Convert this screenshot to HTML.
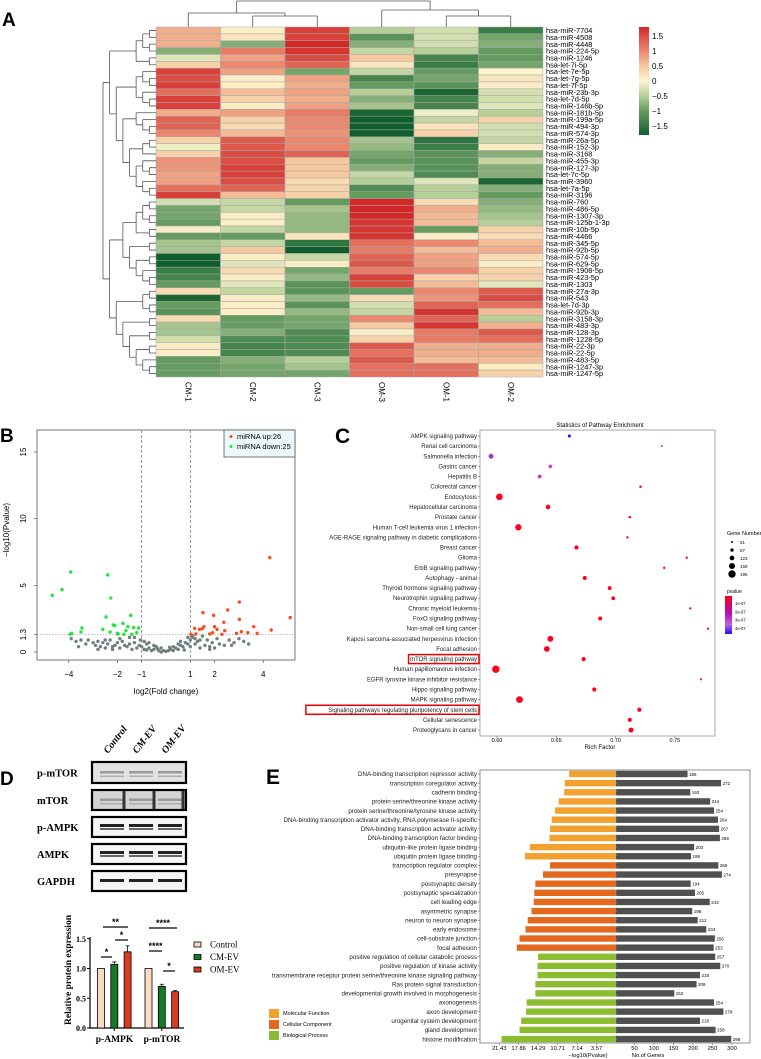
<!DOCTYPE html>
<html><head><meta charset="utf-8"><style>
html,body{margin:0;padding:0;background:#fff}
svg{display:block;font-family:"Liberation Sans",sans-serif}
</style></head><body>
<svg id="fig" width="761" height="1059" viewBox="0 0 761 1059" xmlns="http://www.w3.org/2000/svg"></svg>
<script>
// ---------- DATA ----------
const hmRows=["hsa-miR-7704","hsa-miR-4508","hsa-miR-4448","hsa-miR-224-5p","hsa-miR-1246","hsa-let-7i-5p","hsa-let-7e-5p","hsa-let-7g-5p","hsa-let-7f-5p","hsa-miR-23b-3p","hsa-let-7d-5p","hsa-miR-146b-5p","hsa-miR-181b-5p","hsa-miR-199a-5p","hsa-miR-494-3p","hsa-miR-574-3p","hsa-miR-26a-5p","hsa-miR-152-3p","hsa-miR-3168","hsa-miR-455-3p","hsa-miR-127-3p","hsa-let-7c-5p","hsa-miR-3960","hsa-let-7a-5p","hsa-miR-3196","hsa-miR-760","hsa-miR-486-5p","hsa-miR-1307-3p","hsa-miR-125b-1-3p","hsa-miR-10b-5p","hsa-miR-4466","hsa-miR-345-5p","hsa-miR-92b-5p","hsa-miR-574-5p","hsa-miR-629-5p","hsa-miR-1908-5p","hsa-miR-423-5p","hsa-miR-1303","hsa-miR-27a-3p","hsa-miR-543","hsa-let-7d-3p","hsa-miR-92b-3p","hsa-miR-3158-3p","hsa-miR-483-3p","hsa-miR-128-3p","hsa-miR-1228-5p","hsa-miR-22-3p","hsa-miR-22-5p","hsa-miR-483-5p","hsa-miR-1247-3p","hsa-miR-1247-5p"];
const hmCols=["CM-1","CM-2","CM-3","OM-3","OM-1","OM-2"];
const hmValues=[
[0.7,0.1,1.6,-0.5,-0.3,-1.4],[0.7,0.2,1.6,-1.1,-0.3,-0.9],[0.7,-0.8,1.8,-0.8,-0.3,-0.8],[-0.8,1.1,1.7,-0.4,-0.5,-1.0],[-0.2,0.8,1.5,0.5,-1.3,-1.0],[0.4,1.0,1.3,0.2,-1.4,-0.9],
[1.6,0.8,-0.9,-0.4,-1.0,0.0],[1.5,0.1,0.8,-1.3,-0.9,0.2],[1.6,0.1,0.7,-1.0,-1.1,0.1],[1.2,0.6,0.8,-0.5,-1.7,-0.3],[1.6,0.4,0.7,-0.8,-1.3,-0.3],[1.6,0.1,0.8,-0.6,-1.3,-0.2],
[0.7,0.8,1.1,-1.7,-0.1,-0.5],[1.3,0.4,1.0,-1.8,-0.4,0.4],[1.3,0.3,1.0,-1.8,0.2,-0.3],[1.0,0.6,0.9,-1.9,0.4,-0.3],[0.4,1.4,1.0,-0.6,-1.5,-0.4],[-0.1,1.4,1.0,-0.7,-1.4,0.1],
[0.4,1.5,1.3,-0.9,-1.1,-0.8],[0.9,1.5,0.5,-1.0,-1.1,-0.4],[0.9,1.6,0.5,-0.8,-1.1,-0.8],[0.8,1.6,0.5,-0.4,-1.2,-0.8],[0.8,1.5,0.3,-0.5,-0.2,-1.7],[1.2,1.3,0.4,-1.2,-0.5,-0.8],
[1.6,0.6,0.4,-1.0,-0.5,-1.0],[-0.3,-0.4,-1.0,1.8,0.3,-0.8],[-0.9,-0.4,-0.6,1.8,0.7,-0.7],[-0.9,0.1,-0.7,1.8,0.6,-0.6],[-1.0,0.1,-0.7,1.7,0.6,-0.5],[0.1,-0.4,-0.7,1.7,-1.0,0.4],
[-1.0,-1.0,0.2,1.7,0.1,0.3],[-0.6,-0.4,-1.5,1.2,1.0,0.6],[-0.6,0.5,-1.8,1.1,0.6,0.7],[-1.8,0.1,-0.4,1.3,0.8,0.3],[-1.8,-0.2,0.1,1.4,0.8,0.1],[-1.4,0.3,-0.9,1.1,1.0,0.4],
[-1.3,0.1,-0.7,1.6,0.4,0.4],[-1.0,-0.2,-1.1,1.5,0.6,-0.2],[0.3,-0.4,-1.1,-1.0,1.0,1.4],[-1.7,0.1,-0.7,0.3,0.9,1.5],[-1.0,0.1,-1.1,-0.3,1.3,1.2],[-1.1,0.1,-0.7,-0.4,1.7,0.6],
[0.3,-1.0,-0.9,1.0,1.3,-0.5],[-0.6,-1.0,-0.9,0.5,1.7,0.7],[-0.6,-0.8,-1.2,0.1,1.1,1.4],[-0.3,-1.2,-1.2,0.4,1.1,1.2],[0.1,-1.3,-1.2,1.4,0.7,0.7],[0.1,-1.3,-1.2,1.2,0.7,0.7],
[-1.0,-0.8,-0.5,1.4,0.6,0.6],[-1.0,-0.9,-0.6,1.2,1.2,0.1],[-1.0,-0.9,-0.9,1.2,1.2,0.4]];
const hmScaleTicks=[1.5,1,0.5,0,-0.5,-1,-1.5];
const rowTree=[[[[[0,1],[2,3]],[4,5]],[[[6,[7,8]],[9,[10,11]]],[[12,[13,[14,15]]],[[[16,17],18],[[19,[20,21]],[22,[23,24]]]]]]],
 [[[[[25,26],[27,28]],[29,30]],[[31,32],[[33,34],[35,[36,37]]]]],[[[38,39],[40,41]],[[42,43],[[44,45],[[46,47],[48,[49,50]]]]]]]];

const volUp=[[4.27,7.08],[3.02,3.75],[5.11,2.58],[2.54,3.15],[1.52,2.95],[1.96,2.75],[3.02,2.45],[2.38,2.23],[1.56,1.9],[1.18,1.78],[1.38,1.7],[1.49,1.75],[2.1,1.7],[2.42,1.6],[3.61,1.9],[4.33,1.65],[3.1,1.52],[2.9,1.4],[3.37,1.45],[1.8,1.35],[1.92,1.45],[3.75,1.4],[2.3,1.33],[1.23,1.35],[1.03,1.32],[2.0,1.9]];
const volDown=[[-4.68,4.25],[-4.28,4.68],[-3.92,6.0],[-2.4,5.78],[-2.27,4.05],[-2.47,2.63],[-1.45,2.75],[-2.17,2.03],[-2.11,1.98],[-1.77,2.15],[-1.57,1.9],[-1.33,1.83],[-1.13,1.8],[-3.46,1.8],[-3.88,1.4],[-3.94,1.33],[-2.0,1.4],[-1.65,1.6],[-1.41,1.33],[-1.97,1.35],[-1.73,1.33],[-2.3,1.5],[-1.2,1.45],[-3.5,1.5],[-2.6,1.7]];
const volNs=[[-3.9,1.0],[-3.7,0.8],[-3.5,0.9],[-3.3,0.6],[-3.2,0.9],[-3.0,0.7],[-2.9,0.5],[-2.8,0.8],[-2.7,0.4],[-2.6,0.7],[-2.5,0.3],[-2.4,0.6],[-2.3,0.9],[-2.2,0.4],[-2.1,0.5],[-2.0,0.7],[-1.9,0.3],[-1.8,0.8],[-1.7,0.5],[-1.6,0.4],[-1.5,0.6],[-1.4,0.2],[-1.3,0.7],[-1.2,0.3],[-1.1,0.5],[-1.0,0.4],[-0.9,0.2],[-0.8,0.6],[-0.7,0.3],[-0.6,0.1],[-0.5,0.2],[-0.4,0.4],[-0.3,0.1],[-0.2,0.0],[-0.1,0.1],[0,0.05],[0.1,0.1],[0.2,0.2],[0.3,0.1],[0.4,0.3],[0.5,0.2],[0.6,0.5],[0.7,0.4],[0.8,0.7],[0.9,0.6],[1.0,0.9],[1.1,1.1],[1.2,0.6],[1.3,0.8],[1.4,0.3],[1.5,1.2],[1.6,0.5],[1.7,0.9],[1.8,0.4],[1.9,0.7],[2.0,0.3],[2.2,0.6],[2.4,0.5],[2.6,0.9],[2.8,0.7],[3.0,1.0],[3.2,0.8],[3.4,0.6],[-3.6,0.4],[-2.5,0.9],[-1.9,1.0],[-1.3,1.1],[-0.9,0.8],[-0.5,0.5],[-0.2,0.3],[0.3,0.4],[0.6,0.8],[0.9,1.1],[1.1,1.2],[1.4,0.9],[2.1,1.0],[2.7,0.5],[-2.2,0.2],[-1.5,1.1],[-0.7,0.7],[0.5,0.6],[1.2,1.0],[1.8,0.2],[-0.35,0.25],[0.15,0.35],[-0.8,0.15],[0.75,0.15],[1.0,0.4],[-1.05,0.9],[-2.8,0.2]];
const volXTicks=[-4,-2,-1,1,2,4];
const volYTicks=[0,1.3,5,10,15];

const pwTerms=["AMPK signaling pathway","Renal cell carcinoma","Salmonella infection","Gastric cancer","Hepatitis B","Colorectal cancer","Endocytosis","Hepatocellular carcinoma","Prostate cancer","Human T-cell leukemia virus 1 infection","AGE-RAGE signaling pathway in diabetic complications","Breast cancer","Glioma","ErbB signaling pathway","Autophagy - animal","Thyroid hormone signaling pathway","Neurotrophin signaling pathway","Chronic myeloid leukemia","FoxO signaling pathway","Non-small cell lung cancer","Kaposi sarcoma-associated herpesvirus infection","Focal adhesion","mTOR signaling pathway","Human papillomavirus infection","EGFR tyrosine kinase inhibitor resistance","Hippo signaling pathway","MAPK signaling pathway","Signaling pathways regulating pluripotency of stem cells","Cellular senescence","Proteoglycans in cancer"];
const pwRich=[0.661,0.739,0.595,0.645,0.636,0.721,0.602,0.643,0.712,0.618,0.710,0.667,0.760,0.741,0.674,0.695,0.698,0.763,0.687,0.778,0.645,0.642,0.673,0.599,0.772,0.682,0.619,0.720,0.712,0.713];
const pwGenes=[80,51,130,95,100,65,175,120,65,165,62,110,60,62,105,100,100,60,105,58,155,150,110,195,55,110,180,110,105,130];
const pwP=[4.6e-7,3.2e-7,3.4e-7,2.6e-7,2.5e-7,1e-8,1e-8,1e-8,1e-8,1e-8,1e-8,1e-8,1e-8,1e-8,1e-8,1e-8,1e-8,1e-8,1e-8,1e-8,1e-8,1e-8,1e-8,1e-8,1e-8,1e-8,1e-8,1e-8,1e-8,1e-8];
const pwXTicks=[0.60,0.65,0.70,0.75];
const pwSizeLegend=[51,87,123,159,195];
const pwPLegend=["1e-07","2e-07","3e-07","4e-07"];

const wbLabels=["p-mTOR","mTOR","p-AMPK","AMPK","GAPDH"];
const wbLanes=["Control","CM-EV","OM-EV"];
const barGroups=["p-AMPK","p-mTOR"];
const barSeries=["Control","CM-EV","OM-EV"];
const barControl=[1.0,1.0];
const barCM=[1.07,0.70];
const barOM=[1.28,0.61];
const errControl=[0,0];
const errCM=[0.04,0.035];
const errOM=[0.1,0.02];
const barYTicks=[0.0,0.5,1.0,1.5];

const goTerms=["DNA-binding transcription repressor activity","transcription coregulator activity","cadherin binding","protein serine/threonine kinase activity","protein serine/threonine/tyrosine kinase activity","DNA-binding transcription activator activity, RNA polymerase II-specific","DNA-binding transcription activator activity","DNA-binding transcription factor binding","ubiquitin-like protein ligase binding","ubiquitin protein ligase binding","transcription regulator complex","presynapse","postsynaptic density","postsynaptic specialization","cell leading edge","asymmetric synapse","neuron to neuron synapse","early endosome","cell-substrate junction","focal adhesion","positive regulation of cellular catabolic process","positive regulation of kinase activity","transmembrane receptor protein serine/threonine kinase signaling pathway","Ras protein signal transduction","developmental growth involved in morphogenesis","axonogenesis","axon development","urogenital system development","gland development","histone modification"];
const goCat=["MF","MF","MF","MF","MF","MF","MF","MF","MF","MF","CC","CC","CC","CC","CC","CC","CC","CC","CC","CC","BP","BP","BP","BP","BP","BP","BP","BP","BP","BP"];
const goLogP=[8.6,9.4,9.5,10.5,11.2,11.8,12.1,12.2,15.8,16.7,12.1,13.4,14.8,15.0,15.1,15.5,16.2,16.6,17.7,18.2,14.3,14.4,14.4,14.8,14.8,16.4,16.5,17.4,17.7,21.0];
const goCount=[186,272,193,244,254,264,267,269,203,195,265,274,194,205,243,198,212,234,256,253,257,270,218,209,152,254,278,218,258,298];
const goLeftTicks=["21.43","17.86","14.29","10.71","7.14","3.57"];
const goRightTicks=[50,100,150,200,250,300];
const goLegend=["Molecular Function","Cellular Component","Biological Process"];

// ---------- HELPERS ----------
const NS="http://www.w3.org/2000/svg";
const svg=document.getElementById('fig');
function mk(tag,attrs,parent){const e=document.createElementNS(NS,tag);for(const k in attrs)e.setAttribute(k,attrs[k]);(parent||svg).appendChild(e);return e;}
function txt(s,attrs,parent){const e=mk('text',attrs,parent);e.textContent=s;return e;}

// ---------- PANEL A: HEATMAP ----------
const gA=mk('g',{});


let t=txt('A',{x:2,y:26,'font-size':19,'font-weight':'bold'},gA);


const hmX0=156,hmY0=27,cw=64.5,rh=350/51;
const stops=[[-1.8,[17,94,45]],[-1.0,[100,155,95]],[-0.5,[182,206,152]],[0,[251,246,208]],[0.5,[246,200,160]],[1.0,[234,135,110]],[1.8,[210,40,40]]];
function hcol(v){if(v<=stops[0][0])return 'rgb('+stops[0][1]+')';for(let i=1;i<stops.length;i++){if(v<=stops[i][0]){const a=stops[i-1],b=stops[i];const f=(v-a[0])/(b[0]-a[0]);return 'rgb('+a[1].map((c,j)=>Math.round(c+(b[1][j]-c)*f)).join(',')+')';}}return 'rgb('+stops[stops.length-1][1]+')';}
const hx=j=>hmX0+j*cw, hy=i=>hmY0+i*rh;
hmValues.forEach((row,i)=>row.forEach((v,j)=>{
 const r=mk('rect',{x:hx(j),y:hy(i),width:cw,height:rh,fill:hcol(v),stroke:'#a8a8a8','stroke-width':0.5},gA);
 
 
}));
hmRows.forEach((n,i)=>{
 const e=txt(n,{x:hx(6)+3,y:hy(i)+rh/2+2.6,'font-size':7.4},gA);
 
 
});
hmCols.forEach((n,j)=>{
 const e=txt(n,{x:0,y:0,'font-size':8,transform:`translate(${hx(j)+cw/2-3},382) rotate(90)`},gA);
 
 
});
const colDendro=mk('path',{d:
 `M${hx(1)+cw/2} ${hmY0}V16M${hx(2)+cw/2} ${hmY0}V16M${hx(1)+cw/2} 16H${hx(2)+cw/2}`+
 `M${hx(0)+cw/2} ${hmY0}V13M${hx(1)+cw} 16V13M${hx(0)+cw/2} 13H${hx(1)+cw}`+
 `M${hx(4)+cw/2} ${hmY0}V16M${hx(5)+cw/2} ${hmY0}V16M${hx(4)+cw/2} 16H${hx(5)+cw/2}`+
 `M${hx(3)+cw/2} ${hmY0}V10M${hx(5)} 16V10M${hx(3)+cw/2} 10H${hx(5)}`+
 `M${(hx(0)+cw/2+hx(1)+cw)/2} 13V1M${(hx(3)+cw/2+hx(5))/2} 10V1M${(hx(0)+cw/2+hx(1)+cw)/2} 1H${(hx(3)+cw/2+hx(5))/2}`,
 fill:'none',stroke:'#555','stroke-width':0.8},gA);


function height(n){return Array.isArray(n)?1+Math.max(height(n[0]),height(n[1])):0;}
const maxH=height(rowTree);
let dpath='';
function layout(n){ if(!Array.isArray(n))return {y:hy(n)+rh/2,x:hmX0};
 const a=layout(n[0]),b=layout(n[1]);const x=hmX0-height(n)*(53/maxH);
 dpath+=`M${a.x} ${a.y}H${x}M${b.x} ${b.y}H${x}M${x} ${a.y}V${b.y}`;return {y:(a.y+b.y)/2,x:x};}
layout(rowTree);
const rowD=mk('path',{d:dpath,fill:'none',stroke:'#555','stroke-width':0.8},gA);


const defs=mk('defs',{});
const lg=mk('linearGradient',{id:'hmgrad',x1:0,y1:1,x2:0,y2:0},defs);
stops.forEach(s=>mk('stop',{offset:((s[0]+1.8)/3.6*100)+'%','stop-color':'rgb('+s[1]+')'},lg));
const cb=mk('rect',{x:639,y:27,width:10,height:108,fill:'url(#hmgrad)'},gA);


hmScaleTicks.forEach(v=>{const y=27+108*(1.8-v)/3.6;
 const e=txt(String(v).replace('-','\u2212'),{x:652,y:y+3,'font-size':8},gA);
 
 });

// ---------- PANEL B: VOLCANO ----------
const gB=mk('g',{});


t=txt('B',{x:0,y:442,'font-size':19,'font-weight':'bold'},gB);


const vx=v=>166+v*24.3, vy=v=>652-v*13.33;
const vbox=mk('rect',{x:37,y:430,width:258,height:230,fill:'none',stroke:'#555','stroke-width':0.8},gB);


[-1,1].forEach(v=>{const l=mk('line',{x1:vx(v),x2:vx(v),y1:430,y2:660,stroke:'#666','stroke-width':0.7,'stroke-dasharray':'3,2'},gB);
 
 });
const hl=mk('line',{x1:37,x2:295,y1:vy(1.3),y2:vy(1.3),stroke:'#999','stroke-width':0.7,'stroke-dasharray':'1.5,1.5'},gB);


volNs.forEach(p=>{const c=mk('circle',{cx:vx(p[0]),cy:vy(p[1]),r:1.7,fill:'#6f817f'},gB);
 
 });
volDown.forEach(p=>{const c=mk('circle',{cx:vx(p[0]),cy:vy(p[1]),r:1.7,fill:'#22e53a'},gB);
 
 });
volUp.forEach(p=>{const c=mk('circle',{cx:vx(p[0]),cy:vy(p[1]),r:1.7,fill:'#fb4a1a'},gB);
 
 });
volXTicks.forEach(v=>{mk('line',{x1:vx(v),x2:vx(v),y1:660,y2:663,stroke:'#555','stroke-width':0.7},gB);
 const e=txt(String(v).replace('-','\u2212'),{x:vx(v),y:677,'font-size':8,'text-anchor':'middle'},gB);
 
 });
volYTicks.forEach(v=>{mk('line',{x1:34,x2:37,y1:vy(v),y2:vy(v),stroke:'#555','stroke-width':0.7},gB);
 const e=txt(String(v),{x:0,y:0,'font-size':8,'text-anchor':'middle',transform:`translate(26,${vy(v)}) rotate(-90)`},gB);
 
 });
t=txt('\u2212log10(Pvalue)',{x:0,y:0,'font-size':8,'text-anchor':'middle',transform:'translate(9,530) rotate(-90)'},gB);


t=txt('log2(Fold change)',{x:166,y:694,'font-size':8,'text-anchor':'middle'},gB);


const leg=mk('rect',{x:224,y:430,width:71,height:27,fill:'#ebf7fb',stroke:'#555','stroke-width':0.8},gB);


[['miRNA up:26','#fb4a1a',439],['miRNA down:25','#22e53a',449]].forEach(L=>{
 mk('circle',{cx:231,cy:L[2]-2.5,r:1.5,fill:L[1]},gB);
 const e=txt(L[0],{x:237,y:L[2],'font-size':7.5},gB);
 
 });

// ---------- PANEL C: PATHWAY BUBBLE ----------
const gC=mk('g',{});


t=txt('C',{x:335,y:443,'font-size':21,'font-weight':'bold'},gC);


t=txt('Statistics of Pathway Enrichment',{x:600,y:427,'font-size':6,'text-anchor':'middle'},gC);


const cbx=mk('rect',{x:480,y:430,width:235,height:306,fill:'none',stroke:'#aaa','stroke-width':1},gC);


const px=v=>497+(v-0.6)*1186, py=i=>436+i*10.14;
const pr=g=>1+(g-51)/(195-51)*2.7;
function pcol(p){const f=Math.min(1,Math.max(0,(p-5e-8)/(4.6e-7-5e-8)));
 const a=[255,0,30],b=[200,70,210],c=[30,20,255];
 let r;if(f<0.6){const k=f/0.6;r=a.map((v,j)=>Math.round(v+(b[j]-v)*k));}else{const k=(f-0.6)/0.4;r=b.map((v,j)=>Math.round(v+(c[j]-v)*k));}
 return 'rgb('+r+')';}
pwTerms.forEach((n,i)=>{
 mk('line',{x1:478,x2:480,y1:py(i),y2:py(i),stroke:'#555','stroke-width':0.5},gC);
 const e=txt(n,{x:477,y:py(i)+2,'font-size':6,'text-anchor':'end',fill:'#222'},gC);
 
 
 const c=mk('circle',{cx:px(pwRich[i]),cy:py(i),r:pr(pwGenes[i]),fill:pcol(pwP[i])},gC);
 
 
});
[22,27].forEach(i=>{const w=pwTerms[i].length*3.02+4;
 const r=mk('rect',{x:479-w,y:py(i)-4.5,width:w,height:9,fill:'none',stroke:'#e00','stroke-width':1.5},gC);
 
 });
pwXTicks.forEach(v=>{mk('line',{x1:px(v),x2:px(v),y1:736,y2:738,stroke:'#555','stroke-width':0.5},gC);
 const e=txt(v.toFixed(2),{x:px(v),y:742,'font-size':5.5,'text-anchor':'middle'},gC);
 
 });
t=txt('Rich Factor',{x:600,y:749,'font-size':6,'text-anchor':'middle'},gC);


t=txt('Gene Number',{x:727,y:535,'font-size':5.5},gC);


pwSizeLegend.forEach((g,k)=>{const y=542+k*8;
 mk('circle',{cx:732,cy:y,r:pr(g),fill:'#000'},gC);
 const e=txt(String(g),{x:740,y:y+1.8,'font-size':4.5},gC);
 
 });
t=txt('pvalue',{x:727,y:593,'font-size':5},gC);


const pg=mk('linearGradient',{id:'pgrad',x1:0,y1:0,x2:0,y2:1},defs);
mk('stop',{offset:'0%','stop-color':'#ff0020'},pg);mk('stop',{offset:'45%','stop-color':'#b010b0'},pg);mk('stop',{offset:'75%','stop-color':'#c060e0'},pg);mk('stop',{offset:'100%','stop-color':'#2010ff'},pg);
const pgb=mk('rect',{x:725,y:596,width:7,height:38,fill:'url(#pgrad)'},gC);


pwPLegend.forEach((s,k)=>{const e=txt(s,{x:735,y:605+k*8.3,'font-size':4.2},gC);
 
 });

// ---------- PANEL D: WESTERN BLOT + BARS ----------
const gD=mk('g',{});


t=txt('D',{x:0,y:785,'font-size':19,'font-weight':'bold'},gD);


const blotY=[762,790,817,844,871], blotH=[21,20,20,20,20];
const laneX=[112,141,170];
const serif='"Liberation Serif",serif';
wbLanes.forEach((n,k)=>{const e=txt(n,{x:0,y:0,'font-size':10,'font-weight':'bold','font-style':'italic','font-family':serif,transform:`translate(${laneX[k]-4},${754}) rotate(-52)`},gD);
 
 });
wbLabels.forEach((n,i)=>{
 const e=txt(n,{x:37,y:blotY[i]+blotH[i]/2+4,'font-size':10.5,'font-weight':'bold','font-family':serif},gD);
 
 
 const bg=i===0?'#e2e2e2':i===1?'#d4d4d4':'#f6f6f6';
 const b=mk('rect',{x:92,y:blotY[i],width:94,height:blotH[i],fill:bg,stroke:'#000','stroke-width':2.2},gD);
 
 
 laneX.forEach(x=>{
  if(i<2){mk('rect',{x:x-12,y:blotY[i]+blotH[i]/2-1.5,width:24,height:2.5,fill:'#9a9a9a'},gD);mk('rect',{x:x-12,y:blotY[i]+blotH[i]/2+3,width:24,height:1.5,fill:'#b0b0b0'},gD);}
  else if(i<4){mk('rect',{x:x-12,y:blotY[i]+7,width:24,height:3,fill:'#222'},gD);mk('rect',{x:x-12,y:blotY[i]+11,width:24,height:2,fill:'#666'},gD);}
  else {mk('rect',{x:x-12,y:blotY[i]+8,width:24,height:3,fill:'#222'},gD);}
 });
 if(i===1){[124,154,183].forEach(x=>mk('rect',{x:x-1.5,y:blotY[i]+1,width:3,height:blotH[i]-2,fill:'#333'},gD));}
});
const by=v=>1028-v*59.5;
const ax=mk('path',{d:'M90 937V1028H184',fill:'none',stroke:'#000','stroke-width':1.2},gD);


barYTicks.forEach(v=>{mk('line',{x1:87,x2:90,y1:by(v),y2:by(v),stroke:'#000','stroke-width':1},gD);
 const e=txt(v.toFixed(1),{x:86,y:by(v)+3,'font-size':8,'text-anchor':'end','font-weight':'bold','font-family':serif},gD);
 
 });
const barCols=['#f7dcc2','#157a25','#d83a22'];
const series=[barControl,barCM,barOM], errs=[errControl,errCM,errOM];
const groupX=[97.5,145];
barGroups.forEach((g,gi)=>{
 series.forEach((s,si)=>{const x=groupX[gi]+si*13.3;
  const r=mk('rect',{x:x,y:by(s[gi]),width:7,height:by(0)-by(s[gi]),fill:barCols[si],stroke:'#000','stroke-width':0.8},gD);
  
  
  const e=errs[si][gi];
  if(e>0){mk('path',{d:`M${x+3.5} ${by(s[gi])}V${by(s[gi]+e)}M${x+1.5} ${by(s[gi]+e)}H${x+5.5}`,stroke:'#000','stroke-width':0.8,fill:'none'},gD);}
 });
 mk('line',{x1:groupX[gi]+16.8,x2:groupX[gi]+16.8,y1:1028,y2:1031,stroke:'#000'},gD);
 const e=txt(g,{x:groupX[gi]+17,y:1042,'font-size':9.5,'font-weight':'bold','font-family':serif,'text-anchor':'middle'},gD);
 
 
});
t=txt('Relative protein expression',{x:0,y:0,'font-size':9.5,'font-weight':'bold','font-family':serif,'text-anchor':'middle',transform:'translate(71,970) rotate(-90)'},gD);


[[103,128,927,'**'],[101,112,957,'*'],[115,128,940,'*'],[149,177,928,'****'],[149,162,951,'****'],[163,175,971,'*']].forEach(s=>{
 mk('line',{x1:s[0],x2:s[1],y1:s[2],y2:s[2],stroke:'#000','stroke-width':1.2},gD);
 const e=txt(s[3],{x:(s[0]+s[1])/2,y:s[2]-2,'font-size':9,'font-weight':'bold','text-anchor':'middle'},gD);
 
 });
barSeries.forEach((n,k)=>{const y=942+k*12.5;
 mk('rect',{x:194,y:y,width:7,height:5,fill:barCols[k],stroke:'#000','stroke-width':0.8},gD);
 const e=txt(n,{x:210,y:y+5.5,'font-size':9,'font-family':serif},gD);
 
 });

// ---------- PANEL E: GO BARS ----------
const gE=mk('g',{});


t=txt('E',{x:266,y:784,'font-size':21,'font-weight':'bold'},gE);


const ebox=mk('rect',{x:480,y:770,width:270,height:273,fill:'none',stroke:'#777','stroke-width':0.8},gE);


const ex0=616, lx=v=>ex0-v*5.45, rx=v=>ex0-1+v*0.39, ey=i=>774+i*9.14;
const catCol={MF:'#f2a02e',CC:'#e4671e',BP:'#8cbd30'};
goTerms.forEach((n,i)=>{
 mk('line',{x1:478,x2:480,y1:ey(i),y2:ey(i),stroke:'#555','stroke-width':0.5},gE);
 const e=txt(n,{x:477,y:ey(i)+2.2,'font-size':6.2,'text-anchor':'end',fill:'#222'},gE);
 
 
 const b=mk('rect',{x:lx(goLogP[i]),y:ey(i)-3.2,width:ex0-lx(goLogP[i]),height:6.4,fill:catCol[goCat[i]]},gE);
 
 
 const g=mk('rect',{x:ex0,y:ey(i)-3.2,width:rx(goCount[i])-ex0,height:6.4,fill:'#505050'},gE);
 
 
 const v=txt(String(goCount[i]),{x:rx(goCount[i])+1.5,y:ey(i)+1.8,'font-size':4.5},gE);
 
 
});
const dl=mk('line',{x1:ex0,x2:ex0,y1:770,y2:1043,stroke:'#bbb','stroke-width':0.5,'stroke-dasharray':'2,2'},gE);


goLeftTicks.forEach(s=>{const x=lx(parseFloat(s));
 mk('line',{x1:x,x2:x,y1:1043,y2:1045,stroke:'#555','stroke-width':0.5},gE);
 const e=txt(s,{x:x,y:1050,'font-size':5.8,'text-anchor':'middle'},gE);
 
 });
goRightTicks.forEach(v=>{const x=rx(v);
 mk('line',{x1:x,x2:x,y1:1043,y2:1045,stroke:'#555','stroke-width':0.5},gE);
 const e=txt(String(v),{x:x,y:1050,'font-size':5.8,'text-anchor':'middle'},gE);
 
 });
t=txt('\u2212log10(Pvalue)',{x:588,y:1057,'font-size':5.8,'text-anchor':'middle'},gE);


t=txt('No.of Genes',{x:648,y:1057,'font-size':5.8,'text-anchor':'middle'},gE);


goLegend.forEach((n,k)=>{const y=1009+k*11;
 mk('rect',{x:269,y:y,width:10,height:9,fill:[catCol.MF,catCol.CC,catCol.BP][k]},gE);
 const e=txt(n,{x:283,y:y+6,'font-size':5.5},gE);
 
 });
</script>
</body></html>
